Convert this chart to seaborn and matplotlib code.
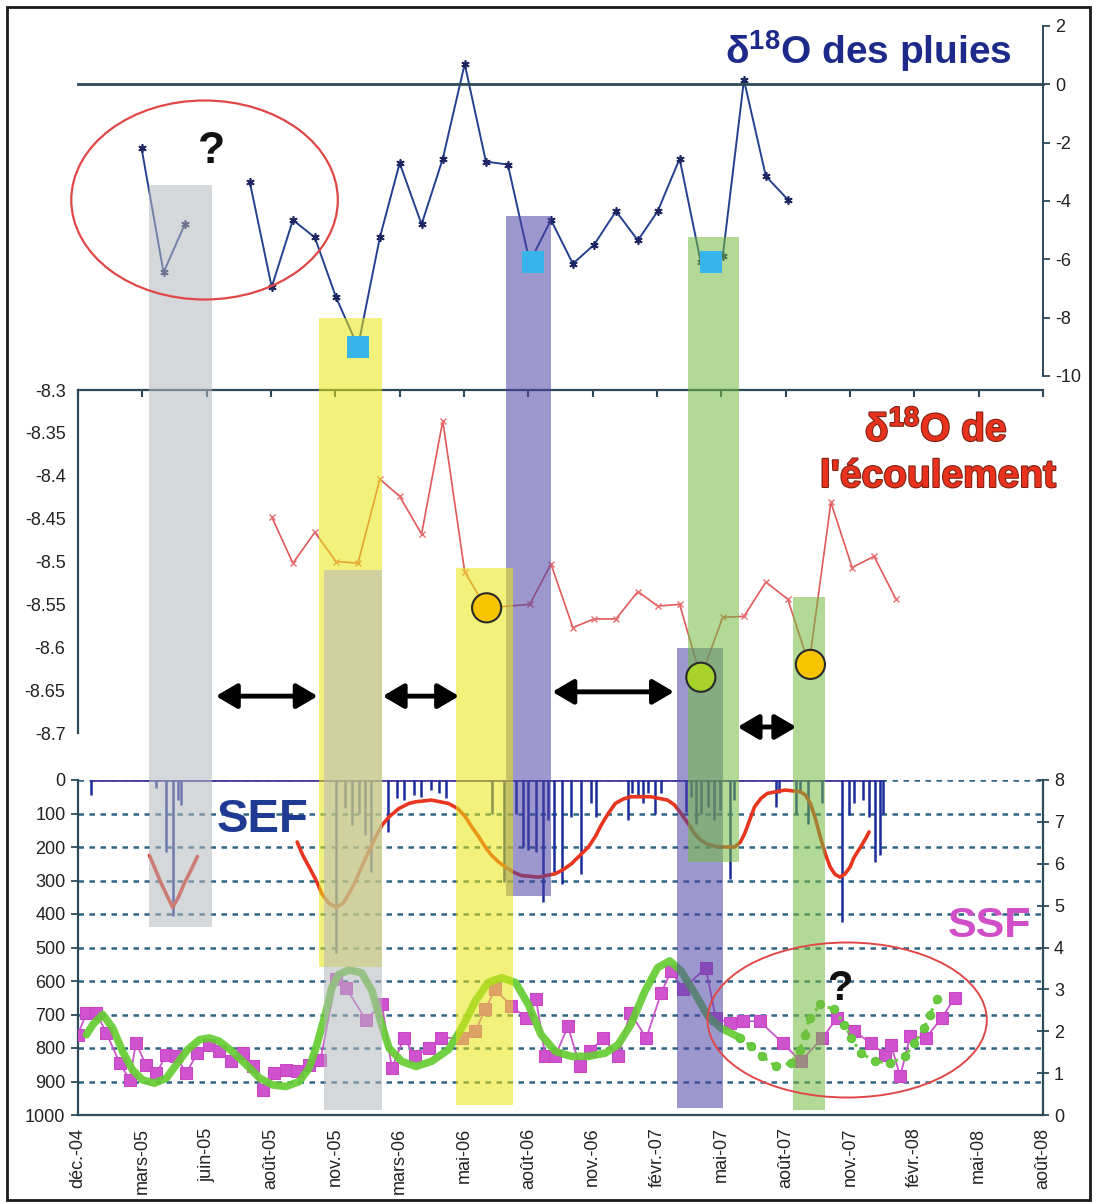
import pandas as pd
import matplotlib
matplotlib.use('Agg')
import matplotlib.pyplot as plt
import matplotlib.dates as mdates
import matplotlib.patheffects as pe
from matplotlib.patches import Ellipse, Rectangle
import seaborn as sns

sns.set_style('white')
plt.rcParams['font.family'] = ['Liberation Sans', 'DejaVu Sans']
plt.rcParams['mathtext.fontset'] = 'custom'
plt.rcParams['mathtext.rm'] = 'Liberation Sans'
plt.rcParams['mathtext.bf'] = 'Liberation Sans:bold'
plt.rcParams['axes.unicode_minus'] = False

W, H = 1096, 1203
T0 = pd.Timestamp('2004-12-01')
T1 = pd.Timestamp('2008-08-27')

tick_labels = ['déc.-04', 'mars-05', 'juin-05', 'août-05', 'nov.-05', 'mars-06',
               'mai-06', 'août-06', 'nov.-06', 'févr.-07', 'mai-07', 'août-07',
               'nov.-07', 'févr.-08', 'mai-08', 'août-08']

# d18O des pluies (mensuel)
pluie_mois = ['2005-03', '2005-04', '2005-05',
              '2005-08', '2005-09', '2005-10', '2005-11', '2005-12', '2006-01',
              '2006-02', '2006-03', '2006-04', '2006-05', '2006-06', '2006-07',
              '2006-08', '2006-09', '2006-10', '2006-11', '2006-12', '2007-01',
              '2007-02', '2007-03', '2007-04', '2007-05', '2007-06', '2007-07',
              '2007-08', '2007-09']
pluie_val = [-2.2, -6.45, -4.8,
             -3.35, -6.95, -4.65, -5.25, -7.3, -9.0, -5.25, -2.7, -4.8, -2.55,
             0.7, -2.65, -2.75, -6.1, -4.65, -6.15, -5.5, -4.35, -5.35, -4.35,
             -2.55, -6.1, -5.9, 0.15, -3.15, -3.95]
pluie_seg = [0, 0, 0] + [1] * 26
carre_dates = ['2006-01-01', '2006-09-06', '2007-05-16']
carre_val = [-9.0, -6.1, -6.1]

# d18O de l'ecoulement
ecoul_mois = ['2005-09', '2005-10', '2005-11', '2005-12', '2006-01', '2006-02',
              '2006-03', '2006-04', '2006-05', '2006-06', '2006-07', '2006-09',
              '2006-10', '2006-11', '2006-12', '2007-01', '2007-02', '2007-03',
              '2007-04', '2007-05', '2007-06', '2007-07', '2007-08', '2007-09',
              '2007-10', '2007-11', '2007-12', '2008-01', '2008-02']
ecoul_val = [-8.448, -8.502, -8.466, -8.500, -8.502, -8.404, -8.424, -8.468,
             -8.336, -8.512, -8.554, -8.550, -8.503, -8.577, -8.567, -8.567,
             -8.535, -8.552, -8.550, -8.635, -8.565, -8.564, -8.524, -8.544,
             -8.620, -8.431, -8.507, -8.494, -8.544]
rond_dates = ['2006-07-02', '2007-05-01', '2007-10-03']
rond_val = [-8.554, -8.635, -8.62]
rond_type = ['jaune', 'vert', 'jaune']
mid_ticks = [-8.3, -8.35, -8.4, -8.45, -8.5, -8.55, -8.6, -8.65, -8.7]
mid_labels = ['-8.3', '-8.35', '-8.4', '-8.45', '-8.5', '-8.55', '-8.6', '-8.65', '-8.7']

# SEF : pluies journalieres (jours depuis le 01/12/2004)
sef_jours = [19, 111, 124, 134, 141, 146, 365, 378, 387, 397, 406, 414, 438, 451,
             461, 475, 485, 499, 510, 521, 585, 602, 620, 630, 637, 648, 658, 665,
             674, 684, 698, 712, 725, 733, 778, 784, 792, 799, 806, 816, 825, 860,
             867, 874, 881, 891, 899, 908, 922, 928, 987, 991, 1015, 1021, 1032,
             1053, 1081, 1091, 1098, 1111, 1119, 1128, 1134, 1138]
sef_val = [45, 25, 215, 405, 60, 75, 515, 85, 135, 100, 165, 275, 155, 55, 60, 45,
           50, 30, 40, 55, 100, 305, 100, 200, 210, 215, 365, 120, 275, 310, 110,
           280, 70, 110, 120, 40, 45, 70, 40, 100, 40, 95, 50, 130, 100, 80, 120,
           90, 295, 60, 80, 40, 100, 40, 130, 70, 425, 105, 70, 60, 110, 245, 225,
           100]

# SEF lisse (courbe rouge)
rouge1_jours = [101, 110, 118, 127, 134, 142, 150, 160, 169]
rouge1_val = [225, 270, 310, 350, 380, 350, 310, 268, 228]
rouge2_jours = [310, 318, 327, 337, 345, 355, 365, 375, 383, 393, 401, 411, 421,
                430, 440, 454, 468, 478, 500, 524, 537, 548, 557, 567, 576, 585,
                595, 605, 616, 627, 651, 675, 686, 698, 710, 722, 732, 740, 750,
                760, 771, 782, 810, 834, 844, 853, 863, 872, 881, 891, 905, 929,
                937, 943, 950, 957, 966, 975, 1000, 1022, 1029, 1036, 1043, 1050,
                1057, 1064, 1071, 1078, 1085, 1092, 1098, 1107, 1114, 1119]
rouge2_val = [185, 225, 260, 300, 340, 368, 380, 368, 340, 300, 260, 215, 170,
              135, 110, 85, 70, 65, 60, 70, 85, 110, 140, 170, 200, 225, 245, 260,
              275, 285, 290, 280, 268, 250, 225, 200, 168, 135, 100, 70, 57, 50,
              50, 60, 75, 100, 130, 160, 180, 192, 200, 200, 185, 160, 120, 80, 55,
              40, 30, 35, 45, 70, 115, 170, 220, 260, 282, 290, 280, 260, 230, 200,
              175, 155]

# SSF (carres magenta)
ssf_jours = [0, 12, 26, 40, 59, 73, 82, 96, 111, 125, 139, 153, 169, 186, 200, 216,
             233, 247, 261, 277, 294, 310, 327, 343, 365, 379, 407, 430, 444, 461,
             477, 496, 514, 543, 562, 576, 590, 613, 634, 648, 661, 675, 693, 710,
             724, 743, 764, 781, 804, 825, 839, 856, 888, 902, 922, 940, 964, 997,
             1022, 1053, 1074, 1098, 1121, 1142, 1150, 1163, 1177, 1199, 1222, 1240]
ssf_val = [1.92, 2.44, 2.44, 1.96, 1.24, 0.84, 1.72, 1.2, 1.0, 1.44, 1.4, 1.0, 1.48,
           1.68, 1.52, 1.28, 1.48, 1.16, 0.6, 1.0, 1.08, 1.04, 1.2, 1.32, 3.24, 3.04,
           2.28, 2.64, 1.12, 1.84, 1.4, 1.6, 1.84, 1.84, 2.0, 2.52, 3.0, 2.6, 2.32,
           2.76, 1.4, 1.4, 2.12, 1.16, 1.52, 1.84, 1.4, 2.44, 1.84, 2.92, 3.44, 3.0,
           3.52, 2.32, 2.2, 2.24, 2.24, 1.72, 1.28, 1.84, 2.32, 2.0, 1.72, 1.44,
           1.68, 0.92, 1.88, 1.84, 2.32, 2.8]

# SSF lisse (courbe verte)
vert_jours = [12, 21, 35, 49, 63, 77, 91, 108, 125, 139, 155, 172, 186, 200, 218,
              238, 257, 275, 294, 313, 327, 338, 351, 359, 369, 383, 401, 416, 428,
              440, 458, 478, 500, 524, 543, 562, 580, 599, 619, 637, 655, 675, 698,
              722, 746, 764, 782, 802, 820, 837, 853, 872, 891, 909, 937]
vert_val = [1.92, 2.16, 2.4, 2.08, 1.52, 1.08, 0.84, 0.76, 0.88, 1.2, 1.56, 1.8,
            1.84, 1.76, 1.52, 1.2, 0.88, 0.72, 0.68, 0.8, 1.12, 1.68, 2.48, 3.04,
            3.36, 3.46, 3.4, 2.96, 2.24, 1.6, 1.28, 1.16, 1.28, 1.56, 2.08, 2.72,
            3.16, 3.28, 3.16, 2.64, 1.92, 1.52, 1.4, 1.4, 1.48, 1.68, 2.16, 2.96,
            3.52, 3.68, 3.44, 2.92, 2.36, 2.08, 1.84]
pointille_jours = [937, 952, 968, 987, 1008, 1021, 1028, 1035, 1050, 1070, 1084,
                   1094, 1107, 1128, 1149, 1170, 1183, 1197, 1205, 1215]
pointille_val = [1.84, 1.64, 1.4, 1.16, 1.24, 1.56, 1.92, 2.32, 2.64, 2.52, 2.16,
                 1.84, 1.48, 1.28, 1.24, 1.4, 1.72, 2.08, 2.4, 2.76]

# bandes colorees : debut, fin, haut(px), bas(px), couleur
bandes = [
    ('2005-03-12', '2005-06-08', 185, 927, '#b4b8bd'),
    ('2005-11-07', '2006-02-04', 318, 967, '#e9e710'),
    ('2005-11-14', '2006-02-04', 570, 1110, '#b4b8bd'),
    ('2006-07-30', '2006-10-01', 216, 896, '#4b43a7'),
    ('2006-05-19', '2006-08-09', 568, 1105, '#e9e710'),
    ('2007-03-28', '2007-06-01', 648, 1108, '#4b43a7'),
    ('2007-04-13', '2007-06-24', 237, 862, '#73bb41'),
    ('2007-09-08', '2007-10-24', 597, 1110, '#73bb41'),
]
fleches = [('2005-06-14', '2005-11-05', -8.657), ('2006-02-05', '2006-05-24', -8.657),
           ('2006-10-03', '2007-03-24', -8.652), ('2007-06-22', '2007-09-13', -8.693)]


def jours(d):
    return T0 + pd.to_timedelta(d, unit='D')


def rect(l, t, r, b):
    return [l / W, 1 - b / H, (r - l) / W, (b - t) / H]


def ftext(x, y, s, **kw):
    fig.text(x / W, 1 - y / H, s, **kw)


tick_dates = pd.date_range(T0, periods=16, freq='91D')
axc = '#2e4a5a'

fig = plt.figure(figsize=(W / 100, H / 100), dpi=100)

# ---- panneau haut : pluies
ax_top = fig.add_axes(rect(78, 26, 1043, 376))
df_p = pd.DataFrame({'date': pd.to_datetime(pluie_mois), 'v': pluie_val, 'seg': pluie_seg})
sns.lineplot(data=df_p, x='date', y='v', units='seg', estimator=None, ax=ax_top,
             color='#24418f', lw=1.4, marker=(6, 2, 0), markersize=6,
             markeredgecolor='#1c2560', markeredgewidth=1.2)
ax_top.set_ylim(-10, 2)
for s in ['left', 'top']:
    ax_top.spines[s].set_visible(False)
ax_top.spines['bottom'].set_position(('data', 0))
ax_top.spines['bottom'].set_linewidth(2)
ax_top.spines['bottom'].set_color(axc)
ax_top.spines['right'].set_linewidth(1.4)
ax_top.spines['right'].set_color(axc)
ax_top.yaxis.tick_right()
ax_top.set_yticks(range(-10, 3, 2))
ax_top.set_xticks(tick_dates)
ax_top.tick_params(axis='x', direction='inout', length=7, width=2, color=axc, labelbottom=False)
ax_top.tick_params(axis='y', direction='out', length=5, width=1.3, color=axc,
                   labelsize=13, labelcolor='#222222', pad=4)
ax_top.set_xlabel('')
ax_top.set_ylabel('')

# ---- panneau milieu : ecoulement
ax_mid = fig.add_axes(rect(78, 390, 1043, 733))
sns.lineplot(x=pd.to_datetime(ecoul_mois), y=ecoul_val, ax=ax_mid, color='#e05a5a',
             lw=1.2, marker='x', markersize=4, markeredgecolor='#e87070', markeredgewidth=1)
ax_mid.set_ylim(-8.7, -8.3)
for s in ['right', 'bottom']:
    ax_mid.spines[s].set_visible(False)
for s in ['left', 'top']:
    ax_mid.spines[s].set_color(axc)
    ax_mid.spines[s].set_linewidth(1.6)
ax_mid.set_yticks(mid_ticks)
ax_mid.set_yticklabels(mid_labels)
ax_mid.xaxis.set_ticks_position('top')
ax_mid.set_xticks(tick_dates)
ax_mid.tick_params(axis='x', direction='in', length=5, width=1.5, color=axc, labeltop=False)
ax_mid.tick_params(axis='y', direction='out', length=5, width=1.3, color=axc,
                   labelsize=13, labelcolor='#222222', pad=4)
ax_mid.set_xlabel('')
ax_mid.set_ylabel('')

# ---- panneau bas : SEF / SSF
ax_bot = fig.add_axes(rect(78, 780, 1043, 1115))
ax_bot.set_axisbelow(True)
ax_bot.grid(True, axis='y', color='#2f6485', linestyle=(0, (2.2, 2.2)), lw=1.8)
sef_d = jours(sef_jours)
ax_bot.hlines(0, sef_d.min(), sef_d.max(), color='#4a3c9c', lw=2)
ax_bot.vlines(sef_d, 0, sef_val, color='#1b2d9c', lw=1.8)
sns.lineplot(x=jours(rouge1_jours), y=rouge1_val, ax=ax_bot, color='#e8351f', lw=2.6)
sns.lineplot(x=jours(rouge2_jours), y=rouge2_val, ax=ax_bot, color='#e8351f', lw=2.6)
ax_bot.set_ylim(1000, 0)
ax_bot.set_yticks(range(0, 1001, 100))
ax_bot.spines['top'].set_visible(False)
ax_bot.spines['right'].set_visible(False)
for s in ['left', 'bottom']:
    ax_bot.spines[s].set_color(axc)
    ax_bot.spines[s].set_linewidth(1.6)
ax_bot.set_xticks(tick_dates)
ax_bot.set_xticklabels(tick_labels, rotation=90)
ax_bot.tick_params(axis='x', direction='out', length=6, width=1.5, color=axc,
                   labelsize=13, labelcolor='#222222', pad=3)
ax_bot.tick_params(axis='y', direction='out', length=5, width=1.3, color=axc,
                   labelsize=13, labelcolor='#222222', pad=4)
ax_bot.set_xlabel('')
ax_bot.set_ylabel('')

tw = ax_bot.twinx()
sns.lineplot(x=jours(ssf_jours), y=ssf_val, ax=tw, color='#cc55cc', lw=1.3,
             marker='s', markersize=8, markeredgecolor='#c845c8', markerfacecolor='#cf52cf')
sns.lineplot(x=jours(vert_jours), y=vert_val, ax=tw, color='#66cc33', lw=5.5, alpha=0.92)
sns.lineplot(x=jours(pointille_jours), y=pointille_val, ax=tw, color='#6acb3f', lw=2.2,
             linestyle=(0, (1, 1.6)), marker='o', markersize=6, markeredgecolor='#5cc23a')
tw.set_ylim(0, 8)
tw.set_yticks(range(0, 9))
for s in ['left', 'top', 'bottom']:
    tw.spines[s].set_visible(False)
tw.spines['right'].set_color(axc)
tw.spines['right'].set_linewidth(1.6)
tw.tick_params(axis='y', direction='inout', length=8, width=1.3, color=axc,
               labelsize=13, labelcolor='#222222', pad=4)
tw.set_ylabel('')

for a in (ax_top, ax_mid, ax_bot):
    a.set_xlim(T0, T1)

# ---- calque des bandes
ov = fig.add_axes(rect(78, 0, 1043, 1203))
ov.set_xlim(T0, T1)
ov.set_ylim(H, 0)
ov.axis('off')
for d0, d1, top, bas, c in bandes:
    ov.fill_between(pd.to_datetime([d0, d1]), top, bas, color=c, alpha=0.55, lw=0)
ov.add_patch(Ellipse((mdates.date2num(jours(179)), 200), width=377, height=199,
                     fill=False, ec='#e04848', lw=1.6, clip_on=False))
ov.add_patch(Ellipse((mdates.date2num(jours(1088)), 1020), width=395, height=155,
                     fill=False, ec='#e04848', lw=1.4, clip_on=False))

# ---- calques des marqueurs
hi_top = fig.add_axes(rect(78, 26, 1043, 376))
sns.scatterplot(x=pd.to_datetime(carre_dates), y=carre_val, ax=hi_top, marker='s',
                s=250, color='#37b4ea', edgecolor='none')
hi_top.set_xlim(T0, T1)
hi_top.set_ylim(-10, 2)
hi_top.axis('off')

hi_mid = fig.add_axes(rect(78, 390, 1043, 733))
sns.scatterplot(x=pd.to_datetime(rond_dates), y=rond_val, hue=rond_type, ax=hi_mid,
                palette={'jaune': '#f6c400', 'vert': '#a6d22a'}, s=440,
                edgecolor='#2a2a2a', linewidth=1.5, legend=False)
for d0, d1, y in fleches:
    hi_mid.annotate('', xy=(mdates.date2num(pd.Timestamp(d1)), y),
                    xytext=(mdates.date2num(pd.Timestamp(d0)), y),
                    arrowprops=dict(arrowstyle='<|-|>,head_length=0.85,head_width=0.5',
                                    mutation_scale=15, lw=3.5, color='black',
                                    shrinkA=0, shrinkB=0))
hi_mid.set_xlim(T0, T1)
hi_mid.set_ylim(-8.7, -8.3)
hi_mid.axis('off')

# ---- textes
ftext(1012, 64, 'δ$^{\\mathbf{18}}$O des pluies', ha='right', va='baseline',
      fontsize=28, fontweight='bold', color='#1e2a8a')
rouge_pe = [pe.withStroke(linewidth=1.5, foreground='#7a2010')]
ftext(936, 441, 'δ$^{\\mathbf{18}}$O de', ha='center', va='baseline', fontsize=28,
      fontweight='bold', color='#e8321e', path_effects=rouge_pe)
ftext(938, 487, "l'écoulement", ha='center', va='baseline', fontsize=28,
      fontweight='bold', color='#e8321e', path_effects=rouge_pe)
ftext(217, 832, 'SEF', ha='left', va='baseline', fontsize=34, fontweight='bold',
      color='#1f3a93')
ftext(948, 937, 'SSF', ha='left', va='baseline', fontsize=31, fontweight='bold',
      color='#d04ec8')
ftext(212, 163, '?', ha='center', va='baseline', fontsize=32, fontweight='bold', color='#111111')
ftext(840, 1000, '?', ha='center', va='baseline', fontsize=30, fontweight='bold', color='#111111')

fig.add_artist(Rectangle((7 / W, 1 - 1200 / H), (1090 - 7) / W, (1200 - 7) / H,
                         transform=fig.transFigure, fill=False, ec='#1a1a1a', lw=2))

fig.savefig('out.png', dpi=100)
